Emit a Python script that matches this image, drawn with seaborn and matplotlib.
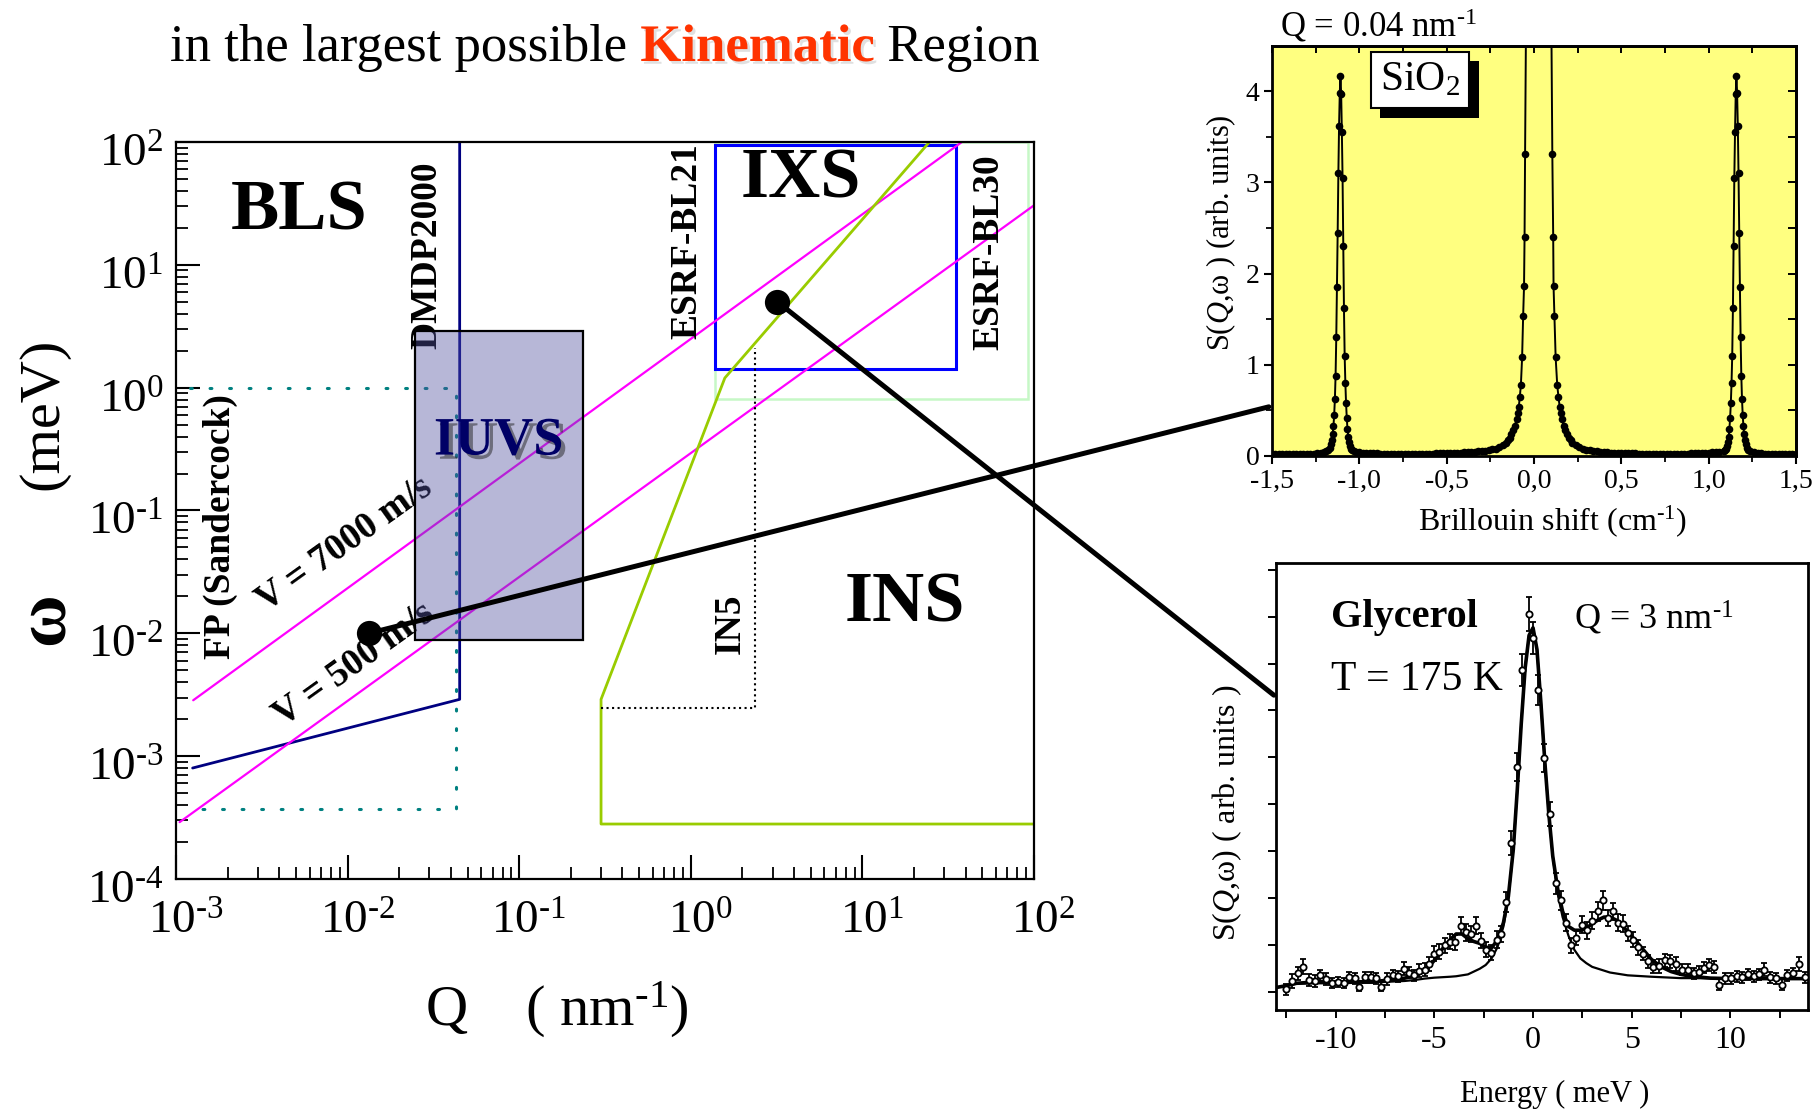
import math
import matplotlib
matplotlib.use("Agg")
import matplotlib.pyplot as plt
import matplotlib.patheffects as pe
import matplotlib.transforms as mtransforms
from matplotlib.patches import Rectangle, ConnectionPatch
from matplotlib.ticker import LogLocator, NullFormatter, MultipleLocator, FuncFormatter
import seaborn as sns

# ---------------- kinematic map: Q (nm^-1) vs omega (meV) ----------------
dmdp_q = [1.25e-3, 0.045, 0.045]
dmdp_w = [8.0e-4, 2.9e-3, 100.0]
fp_q = [1.2e-3, 0.043, 0.043, 1.2e-3]
fp_w = [1.0, 1.0, 3.7e-4, 3.7e-4]
iuvs_q = [0.0248, 0.237]
iuvs_w = [8.8e-3, 2.88]
v7000_q = [1.26e-3, 38.0]
v7000_w = [2.85e-3, 100.0]
v500_q = [1.05e-3, 100.0]
v500_w = [2.9e-4, 30.5]
ins_q = [100.0, 0.30, 0.30, 1.58, 24.6]
ins_w = [2.8e-4, 2.8e-4, 2.9e-3, 1.2, 100.0]
in5_q = [0.30, 2.36, 2.36]
in5_w = [2.45e-3, 2.45e-3, 2.1]
bl21_q = [1.38, 35.0]
bl21_w = [1.43, 95.0]
bl30_q = [1.38, 92.0]
bl30_w = [0.815, 100.0]
sample_q = [0.0133, 3.2]
sample_w = [0.0100, 5.0]

# ---------------- SiO2 Brillouin spectrum, Q = 0.04 nm^-1 ----------------
sio2_shift_a = [-1.50, -1.48, -1.46, -1.44, -1.42, -1.40, -1.38, -1.36, -1.34, -1.32,
                -1.30, -1.28, -1.26, -1.24, -1.22, -1.20]
sio2_int_a = [0.020, 0.020, 0.020, 0.020, 0.020, 0.020, 0.021, 0.021, 0.022, 0.022,
              0.023, 0.024, 0.026, 0.028, 0.032, 0.040]
sio2_shift_b = [-1.190, -1.180, -1.170, -1.164, -1.158, -1.153, -1.148, -1.144, -1.140, -1.136,
                -1.132, -1.128, -1.124, -1.120, -1.116, -1.112, -1.108, -1.104, -1.100, -1.096,
                -1.092, -1.088, -1.084, -1.080, -1.076, -1.072, -1.068, -1.063, -1.058, -1.052,
                -1.046, -1.040, -1.030]
sio2_int_b = [0.050, 0.065, 0.090, 0.130, 0.180, 0.240, 0.330, 0.450, 0.620, 0.880,
              1.300, 1.850, 2.450, 3.100, 3.620, 3.980, 4.170, 3.970, 3.550, 3.050,
              2.300, 1.620, 1.100, 0.800, 0.580, 0.420, 0.300, 0.210, 0.150, 0.110,
              0.080, 0.065, 0.050]
sio2_shift_c = [-1.02, -1.00, -0.98, -0.96, -0.94, -0.92, -0.90, -0.88, -0.86, -0.84,
                -0.82, -0.80, -0.78, -0.76, -0.74, -0.72, -0.70, -0.68, -0.66, -0.64,
                -0.62, -0.60, -0.58, -0.56, -0.54, -0.52, -0.50, -0.48, -0.46, -0.44,
                -0.42, -0.40, -0.38, -0.36, -0.34, -0.32]
sio2_int_c = [0.042, 0.038, 0.035, 0.032, 0.030, 0.028, 0.027, 0.026, 0.025, 0.025,
              0.024, 0.024, 0.024, 0.024, 0.024, 0.024, 0.024, 0.024, 0.025, 0.025,
              0.025, 0.026, 0.026, 0.027, 0.028, 0.029, 0.030, 0.031, 0.032, 0.034,
              0.036, 0.038, 0.040, 0.043, 0.046, 0.050]
sio2_shift_d = [-0.30, -0.28, -0.26, -0.24, -0.22, -0.20, -0.18, -0.16, -0.15, -0.14,
                -0.13, -0.12, -0.11, -0.10, -0.093, -0.087, -0.081, -0.075, -0.068, -0.062,
                -0.057, -0.054, -0.051, -0.046, -0.035, -0.015, 0.027, 0.069, 0.089, 0.100,
                0.105, 0.110, 0.112, 0.117, 0.124, 0.133, 0.140, 0.147, 0.153, 0.160,
                0.170, 0.180, 0.190, 0.200, 0.210, 0.220, 0.240, 0.260, 0.280, 0.300,
                0.320, 0.340, 0.360]
sio2_int_d = [0.054, 0.058, 0.064, 0.071, 0.080, 0.095, 0.115, 0.145, 0.170, 0.200,
              0.240, 0.280, 0.330, 0.400, 0.470, 0.540, 0.650, 0.780, 1.080, 1.540,
              1.860, 2.400, 3.310, 4.600, 8.000, 16.00, 30.00, 16.00, 8.000, 4.600,
              3.310, 2.400, 1.860, 1.540, 1.080, 0.780, 0.650, 0.540, 0.470, 0.400,
              0.330, 0.280, 0.240, 0.200, 0.170, 0.145, 0.115, 0.095, 0.080, 0.070,
              0.062, 0.056, 0.050]
sio2_shift_e = [0.38, 0.40, 0.42, 0.44, 0.46, 0.48, 0.50, 0.52, 0.54, 0.56,
                0.58, 0.60, 0.62, 0.64, 0.66, 0.68, 0.70, 0.72, 0.74, 0.76,
                0.78, 0.80, 0.82, 0.84, 0.86, 0.88, 0.90, 0.92, 0.94, 0.96,
                0.98, 1.00, 1.02, 1.04, 1.06]
sio2_int_e = [0.046, 0.043, 0.040, 0.037, 0.035, 0.033, 0.031, 0.030, 0.029, 0.028,
              0.027, 0.026, 0.026, 0.025, 0.025, 0.024, 0.024, 0.024, 0.024, 0.024,
              0.024, 0.024, 0.025, 0.025, 0.025, 0.026, 0.027, 0.028, 0.030, 0.032,
              0.035, 0.037, 0.040, 0.043, 0.046]
sio2_shift_f = [1.087, 1.093, 1.099, 1.104, 1.109, 1.115, 1.119, 1.123, 1.127, 1.131,
                1.135, 1.139, 1.143, 1.147, 1.151, 1.155, 1.159, 1.163, 1.167, 1.171,
                1.175, 1.179, 1.183, 1.187, 1.191, 1.195, 1.199, 1.203, 1.207, 1.212,
                1.217, 1.227, 1.237]
sio2_int_f = [0.050, 0.065, 0.080, 0.110, 0.150, 0.210, 0.300, 0.420, 0.580, 0.800,
              1.100, 1.620, 2.300, 3.050, 3.550, 3.970, 4.170, 3.980, 3.620, 3.100,
              2.450, 1.850, 1.300, 0.880, 0.620, 0.450, 0.330, 0.240, 0.180, 0.130,
              0.090, 0.065, 0.050]
sio2_shift_g = [1.26, 1.28, 1.30, 1.32, 1.34, 1.36, 1.38, 1.40, 1.42, 1.44, 1.46, 1.48, 1.50]
sio2_int_g = [0.040, 0.033, 0.029, 0.026, 0.024, 0.023, 0.022, 0.022, 0.021, 0.021,
              0.020, 0.020, 0.020]
sio2_xtick_values = [-1.5, -1.0, -0.5, 0.0, 0.5, 1.0, 1.5]
sio2_xtick_labels = ["-1,5", "-1,0", "-0,5", "0,0", "0,5", "1,0", "1,5"]

# ---------------- glycerol IXS spectrum, Q = 3 nm^-1, T = 175 K ----------------
gly_energy = [-12.5, -12.2, -11.9, -11.65, -11.35, -11.05, -10.8, -10.5, -10.2, -9.9,
              -9.6, -9.35, -9.05, -8.8, -8.5, -8.2, -7.95, -7.7, -7.4, -7.1,
              -6.85, -6.55, -6.3, -6.05, -5.8, -5.5, -5.25, -5.0, -4.75, -4.45,
              -4.2, -3.95, -3.65, -3.4, -3.15, -2.9, -2.65, -2.4, -2.15, -1.85,
              -1.6, -1.35, -1.1, -0.8, -0.55, -0.2, 0.0, 0.25, 0.55, 0.85,
              1.15, 1.4, 1.65, 1.95, 2.2, 2.5, 2.75, 3.0, 3.3, 3.55,
              3.8, 4.05, 4.3, 4.55, 4.8, 5.05, 5.3, 5.6, 5.85, 6.1,
              6.4, 6.7, 6.95, 7.25, 7.55, 7.85, 8.15, 8.4, 8.65, 8.9,
              9.15, 9.45, 9.75, 10.05, 10.35, 10.6, 10.9, 11.2, 11.45, 11.7,
              12.0, 12.3, 12.6, 12.9, 13.2, 13.5, 13.8]
gly_intensity = [0.03, 0.12, 0.20, 0.27, 0.13, 0.12, 0.18, 0.14, 0.10, 0.11,
                 0.10, 0.16, 0.15, 0.06, 0.16, 0.16, 0.15, 0.06, 0.14, 0.18,
                 0.17, 0.25, 0.21, 0.18, 0.23, 0.24, 0.30, 0.41, 0.43, 0.50,
                 0.54, 0.53, 0.71, 0.64, 0.62, 0.71, 0.55, 0.45, 0.42, 0.56,
                 0.62, 0.96, 1.59, 2.40, 3.43, 4.03, 3.77, 3.22, 2.49, 1.90,
                 1.16, 0.98, 0.74, 0.50, 0.58, 0.72, 0.66, 0.76, 0.86, 0.98,
                 0.79, 0.86, 0.74, 0.73, 0.63, 0.56, 0.48, 0.41, 0.33, 0.27,
                 0.28, 0.34, 0.33, 0.30, 0.24, 0.24, 0.20, 0.22, 0.26, 0.29,
                 0.27, 0.08, 0.15, 0.15, 0.17, 0.16, 0.19, 0.17, 0.19, 0.24,
                 0.16, 0.15, 0.08, 0.18, 0.20, 0.30, 0.16]
gly_error = [0.06, 0.07, 0.07, 0.08, 0.06, 0.06, 0.06, 0.06, 0.05, 0.05,
             0.05, 0.06, 0.06, 0.05, 0.06, 0.06, 0.06, 0.05, 0.06, 0.06,
             0.06, 0.07, 0.06, 0.06, 0.07, 0.07, 0.07, 0.08, 0.08, 0.08,
             0.08, 0.08, 0.09, 0.09, 0.08, 0.09, 0.08, 0.08, 0.08, 0.09,
             0.09, 0.11, 0.13, 0.15, 0.17, 0.18, 0.17, 0.16, 0.15, 0.13,
             0.11, 0.10, 0.09, 0.08, 0.08, 0.09, 0.09, 0.09, 0.10, 0.10,
             0.09, 0.09, 0.09, 0.09, 0.08, 0.08, 0.08, 0.07, 0.07, 0.07,
             0.07, 0.07, 0.07, 0.07, 0.06, 0.06, 0.06, 0.06, 0.06, 0.06,
             0.06, 0.06, 0.06, 0.06, 0.06, 0.06, 0.06, 0.06, 0.06, 0.07,
             0.06, 0.06, 0.06, 0.06, 0.06, 0.07, 0.06]
fit_energy = [-13.03, -12.5, -12.0, -11.0, -10.0, -9.0, -8.0, -7.0, -6.5, -6.0,
              -5.5, -5.0, -4.6, -4.2, -3.9, -3.6, -3.3, -3.0, -2.7, -2.4,
              -2.1, -1.8, -1.5, -1.25, -1.0, -0.8, -0.6, -0.4, -0.2, 0.0,
              0.2, 0.4, 0.6, 0.8, 1.0, 1.25, 1.5, 1.8, 2.1, 2.4,
              2.7, 3.0, 3.3, 3.6, 3.9, 4.2, 4.5, 4.8, 5.2, 5.6,
              6.0, 6.5, 7.0, 7.5, 8.0, 9.0, 10.0, 11.0, 12.0, 13.0, 13.94]
fit_total = [0.05, 0.07, 0.095, 0.11, 0.11, 0.11, 0.115, 0.135, 0.15, 0.18,
             0.22, 0.34, 0.46, 0.56, 0.62, 0.62, 0.57, 0.54, 0.52, 0.48,
             0.47, 0.56, 0.74, 1.02, 1.52, 2.15, 2.85, 3.45, 3.80, 3.88,
             3.65, 3.08, 2.45, 1.90, 1.45, 1.10, 0.86, 0.70, 0.66, 0.66,
             0.68, 0.73, 0.77, 0.80, 0.80, 0.77, 0.72, 0.64, 0.55, 0.45,
             0.35, 0.27, 0.22, 0.19, 0.17, 0.15, 0.145, 0.145, 0.145, 0.145, 0.145]
fit_central = [0.05, 0.07, 0.09, 0.095, 0.095, 0.10, 0.105, 0.115, 0.12, 0.13,
               0.145, 0.155, 0.16, 0.165, 0.17, 0.18, 0.19, 0.22, 0.25, 0.29,
               0.36, 0.48, 0.70, 1.00, 1.52, 2.15, 2.85, 3.45, 3.80, 3.88,
               3.65, 3.08, 2.45, 1.90, 1.45, 1.05, 0.80, 0.60, 0.45, 0.36,
               0.31, 0.27, 0.25, 0.23, 0.21, 0.20, 0.19, 0.18, 0.175, 0.17,
               0.165, 0.16, 0.155, 0.15, 0.15, 0.148, 0.145, 0.145, 0.145, 0.145, 0.145]
gly_xticks = [-10, -5, 0, 5, 10]

# ---------------- style ----------------
sns.set_theme(style="ticks")
plt.rcParams["font.family"] = ["Liberation Serif", "DejaVu Serif"]
plt.rcParams["mathtext.fontset"] = "custom"
plt.rcParams["mathtext.rm"] = "Liberation Serif"
plt.rcParams["mathtext.it"] = "Liberation Serif:italic"
plt.rcParams["mathtext.bf"] = "Liberation Serif:bold"
plt.rcParams["axes.unicode_minus"] = False
for key in ("text.color", "axes.labelcolor", "axes.edgecolor", "xtick.color", "ytick.color"):
    plt.rcParams[key] = "black"


def decade_label(value, pos):
    """10^k tick label with a plain hyphen in the exponent."""
    k = int(round(math.log10(value)))
    return r"$\mathdefault{10^{\text{%d}}}$" % k


fig = plt.figure(figsize=(18.2, 11.14), dpi=100, facecolor="white")

# ================= main kinematic map =================
ax = fig.add_axes([0.0967, 0.2110, 0.4714, 0.6615])
ax.set_xscale("log")
ax.set_yscale("log")
ax.set_xlim(1e-3, 1e2)
ax.set_ylim(1e-4, 1e2)

ax.add_patch(Rectangle((bl30_q[0], bl30_w[0]), bl30_q[1] - bl30_q[0], bl30_w[1] - bl30_w[0],
                       fill=False, ec="#C6F8C6", lw=1.8, zorder=1.5))
ax.add_patch(Rectangle((bl21_q[0], bl21_w[0]), bl21_q[1] - bl21_q[0], bl21_w[1] - bl21_w[0],
                       fill=False, ec="#0000FF", lw=2.2, zorder=2))
ax.plot(fp_q, fp_w, color="#008080", lw=2.2, linestyle=(0, (0.6, 5.8)),
        dash_capstyle="round", zorder=2)
ax.plot(dmdp_q, dmdp_w, color="#000080", lw=2.0, zorder=2)
ax.plot(v7000_q, v7000_w, color="#FF00FF", lw=1.6, zorder=2)
ax.plot(v500_q, v500_w, color="#FF00FF", lw=1.6, zorder=2)
ax.plot(ins_q, ins_w, color="#99CC00", lw=2.0, zorder=2)
ax.plot(in5_q, in5_w, color="black", lw=1.5, linestyle=":", zorder=2)

bold = dict(fontweight="bold", color="black", ha="center", va="center", zorder=3)
ax.text(5.2e-3, 27.1, "BLS", fontsize=52, **bold)
ax.text(4.36, 48.8, "IXS", fontsize=52, **bold)
ax.text(17.7, 0.0173, "INS", fontsize=52, **bold)
ax.text(0.0289, 11.9, "DMDP2000", fontsize=27, rotation=90, **bold)
ax.text(0.948, 15.7, "ESRF-BL21", fontsize=27, rotation=90, **bold)
ax.text(54.5, 12.6, "ESRF-BL30", fontsize=27, rotation=90, **bold)
ax.text(1.81e-3, 0.0745, "FP (Sandercock)", fontsize=27, rotation=90, **bold)
ax.text(1.71, 0.012, "IN5", fontsize=27, rotation=90, **bold)
ax.text(9.58e-3, 0.0537, "V = 7000 m/s", fontsize=27, rotation=35.6, **bold)
ax.text(0.0108, 5.58e-3, "V = 500 m/s", fontsize=27, rotation=35.6, **bold)

ax.add_patch(Rectangle((iuvs_q[0], iuvs_w[0]), iuvs_q[1] - iuvs_q[0], iuvs_w[1] - iuvs_w[0],
                       fc=(80 / 255, 80 / 255, 160 / 255), alpha=0.41, ec="none", zorder=4))
ax.add_patch(Rectangle((iuvs_q[0], iuvs_w[0]), iuvs_q[1] - iuvs_q[0], iuvs_w[1] - iuvs_w[0],
                       fill=False, ec="black", lw=1.6, zorder=4))
ax.text(0.076, 0.364, "IUVS", fontsize=39, fontweight="bold", color="#000066",
        ha="center", va="center", zorder=5,
        path_effects=[pe.withSimplePatchShadow(offset=(3, -3), shadow_rgbFace="#222222", alpha=0.5)])

sns.scatterplot(x=sample_q, y=sample_w, ax=ax, color="black", s=330, edgecolor="black",
                linewidth=0, zorder=6, legend=False)

ax.xaxis.set_major_locator(LogLocator(base=10, numticks=20))
ax.yaxis.set_major_locator(LogLocator(base=10, numticks=20))
ax.xaxis.set_major_formatter(FuncFormatter(decade_label))
ax.yaxis.set_major_formatter(FuncFormatter(decade_label))
ax.xaxis.set_minor_locator(LogLocator(base=10, subs=range(2, 10), numticks=40))
ax.yaxis.set_minor_locator(LogLocator(base=10, subs=range(2, 10), numticks=40))
ax.xaxis.set_minor_formatter(NullFormatter())
ax.yaxis.set_minor_formatter(NullFormatter())
ax.tick_params(which="major", direction="in", length=17, width=1.5, labelsize=34,
               top=False, right=False)
ax.tick_params(which="minor", direction="in", length=8.5, width=1.3, top=False, right=False)
ax.tick_params(axis="x", which="major", pad=16)
ax.tick_params(axis="y", which="major", pad=9)
for s in ax.spines.values():
    s.set_linewidth(1.6)
    s.set_color("black")
# exponent labels: the mantissa sits on the tick, the exponent hangs to the right/below
x_shift = mtransforms.ScaledTranslation(7 / 72, 0, fig.dpi_scale_trans)
y_shift = mtransforms.ScaledTranslation(0, -6 / 72, fig.dpi_scale_trans)
for lab in ax.get_xticklabels():
    lab.set_transform(lab.get_transform() + x_shift)
for lab in ax.get_yticklabels():
    lab.set_transform(lab.get_transform() + y_shift)

ax.set_xlabel(r"Q    ( nm$^{\text{-1}}$)", fontsize=42)
ax.xaxis.set_label_coords(0.444, -0.178)
ax.xaxis.label.set_va("center")
ax.set_ylabel("(meV)", fontsize=42)
ax.yaxis.set_label_coords(-0.154, 0.631)
ax.yaxis.label.set_va("center")
ax.text(-0.152, 0.353, "ω", transform=ax.transAxes, rotation=90, fontsize=52,
        fontweight="bold", ha="center", va="center", rotation_mode="anchor")

# title line
t1 = fig.text(0.0934, 1 - 61 / 1114, "in the largest possible", fontsize=38,
              ha="left", va="baseline")
t2 = ax.annotate(" Kinematic", xy=(1, 0), xycoords=t1, va="bottom", ha="left",
                 fontsize=38, fontweight="bold", color="#FF3300", annotation_clip=False,
                 path_effects=[pe.withSimplePatchShadow(offset=(2, -2), shadow_rgbFace="#BBBBBB",
                                                        alpha=0.45)])
ax.annotate(" Region", xy=(1, 0), xycoords=t2, va="bottom", ha="left", fontsize=38,
            color="black", annotation_clip=False)

# ================= SiO2 inset =================
ax_si = fig.add_axes([0.6989, 0.5907, 0.2879, 0.3676])
ax_si.set_facecolor("#FFFF80")
sio2_shift = (sio2_shift_a + sio2_shift_b + sio2_shift_c + sio2_shift_d
              + sio2_shift_e + sio2_shift_f + sio2_shift_g)
sio2_int = (sio2_int_a + sio2_int_b + sio2_int_c + sio2_int_d
            + sio2_int_e + sio2_int_f + sio2_int_g)
sns.lineplot(x=sio2_shift, y=sio2_int, ax=ax_si, color="black", lw=1.4, marker="o",
             markersize=5.5, markeredgewidth=0, estimator=None, sort=False, legend=False)
ax_si.set_xlim(-1.5, 1.5)
ax_si.set_ylim(0, 4.49)
ax_si.set_xticks(sio2_xtick_values)
ax_si.set_xticklabels(sio2_xtick_labels)
ax_si.set_yticks([0, 1, 2, 3, 4])
ax_si.xaxis.set_minor_locator(MultipleLocator(0.25))
ax_si.yaxis.set_minor_locator(MultipleLocator(0.5))
ax_si.tick_params(which="major", direction="out", length=6, width=1.5, labelsize=20, pad=3)
ax_si.tick_params(which="minor", direction="out", length=4, width=1.3)
ax_si.set_xlabel(r"Brillouin shift (cm$^{\text{-1}}$)", fontsize=23)
ax_si.xaxis.set_label_coords(0.535, -0.159)
ax_si.xaxis.label.set_va("center")
ax_si.set_ylabel("S($\\mathit{Q}$,ω ) (arb. units)", fontsize=22)
ax_si.yaxis.set_label_coords(-0.097, 0.546)
ax_si.yaxis.label.set_va("center")
for s in ax_si.spines.values():
    s.set_linewidth(2.0)
sec_top = ax_si.secondary_xaxis("top")
sec_top.xaxis.set_major_locator(MultipleLocator(0.25))
sec_top.tick_params(direction="in", length=5, width=1.4, labeltop=False)
sec_right = ax_si.secondary_yaxis("right")
sec_right.yaxis.set_major_locator(MultipleLocator(0.5))
sec_right.tick_params(direction="in", length=6, width=1.4, labelright=False)
for sec in (sec_top, sec_right):
    for s in sec.spines.values():
        s.set_linewidth(2.0)
sio2_tag = ax_si.text(0.282, 0.918, "SiO$_2$", transform=ax_si.transAxes, fontsize=30,
                      ha="center", va="center", zorder=5,
                      bbox=dict(boxstyle="square,pad=0.22", fc="white", ec="black", lw=1.5))
sio2_tag.get_bbox_patch().set_path_effects(
    [pe.withSimplePatchShadow(offset=(7, -7), shadow_rgbFace="black", alpha=1.0)])
fig.text(0.7035, 1 - 26 / 1114, r"Q = 0.04 nm$^{\text{-1}}$", fontsize=25, ha="left", va="center")

# ================= glycerol inset =================
ax_gl = fig.add_axes([0.7011, 0.0938, 0.2923, 0.4008])
ax_gl.errorbar(gly_energy, gly_intensity, yerr=gly_error, fmt="o", ms=4.5, mfc="white",
               mec="black", mew=1.3, ecolor="black", elinewidth=1.3, capsize=2.5,
               capthick=1.3, zorder=3)
sns.lineplot(x=fit_energy, y=fit_central, ax=ax_gl, color="black", lw=1.6,
             estimator=None, sort=False, legend=False)
sns.lineplot(x=fit_energy, y=fit_total, ax=ax_gl, color="black", lw=2.6,
             estimator=None, sort=False, legend=False)
ax_gl.set_xlim(-13.03, 13.94)
ax_gl.set_ylim(-0.184, 4.57)
ax_gl.set_xticks(gly_xticks)
ax_gl.set_yticks([0, 1, 2, 3, 4])
ax_gl.set_yticklabels([])
ax_gl.xaxis.set_minor_locator(MultipleLocator(2.5))
ax_gl.yaxis.set_minor_locator(MultipleLocator(0.5))
ax_gl.tick_params(which="major", direction="out", length=6, width=1.4, labelsize=23, pad=6)
ax_gl.tick_params(which="minor", direction="out", length=6, width=1.4)
for s in ax_gl.spines.values():
    s.set_linewidth(2.0)
ax_gl.set_xlabel("Energy ( meV )", fontsize=22)
ax_gl.xaxis.set_label_coords(0.524, -0.19)
ax_gl.xaxis.label.set_va("center")
ax_gl.set_ylabel("S($\\mathit{Q}$,ω) ( arb. units )", fontsize=23)
ax_gl.yaxis.set_label_coords(-0.092, 0.44)
ax_gl.yaxis.label.set_va("center")
ax_gl.text(0.103, 0.877, "Glycerol", transform=ax_gl.transAxes, fontsize=29,
           fontweight="bold", ha="left", va="center")
ax_gl.text(0.56, 0.877, r"Q = 3 nm$^{\text{-1}}$", transform=ax_gl.transAxes, fontsize=26,
           ha="left", va="center")
ax_gl.text(0.103, 0.739, "T = 175 K", transform=ax_gl.transAxes, fontsize=30,
           ha="left", va="center")

# ================= leader lines from sample points to the spectra =================
con1 = ConnectionPatch(xyA=(sample_q[0], sample_w[0]), coordsA=ax.transData,
                       xyB=(-0.006, 0.12), coordsB=ax_si.transAxes,
                       color="black", lw=3.6, zorder=10)
con2 = ConnectionPatch(xyA=(sample_q[1], sample_w[1]), coordsA=ax.transData,
                       xyB=(-0.004, 0.704), coordsB=ax_gl.transAxes,
                       color="black", lw=3.6, zorder=10)
fig.add_artist(con1)
fig.add_artist(con2)

fig.savefig("out.png", dpi=100, facecolor="white")
